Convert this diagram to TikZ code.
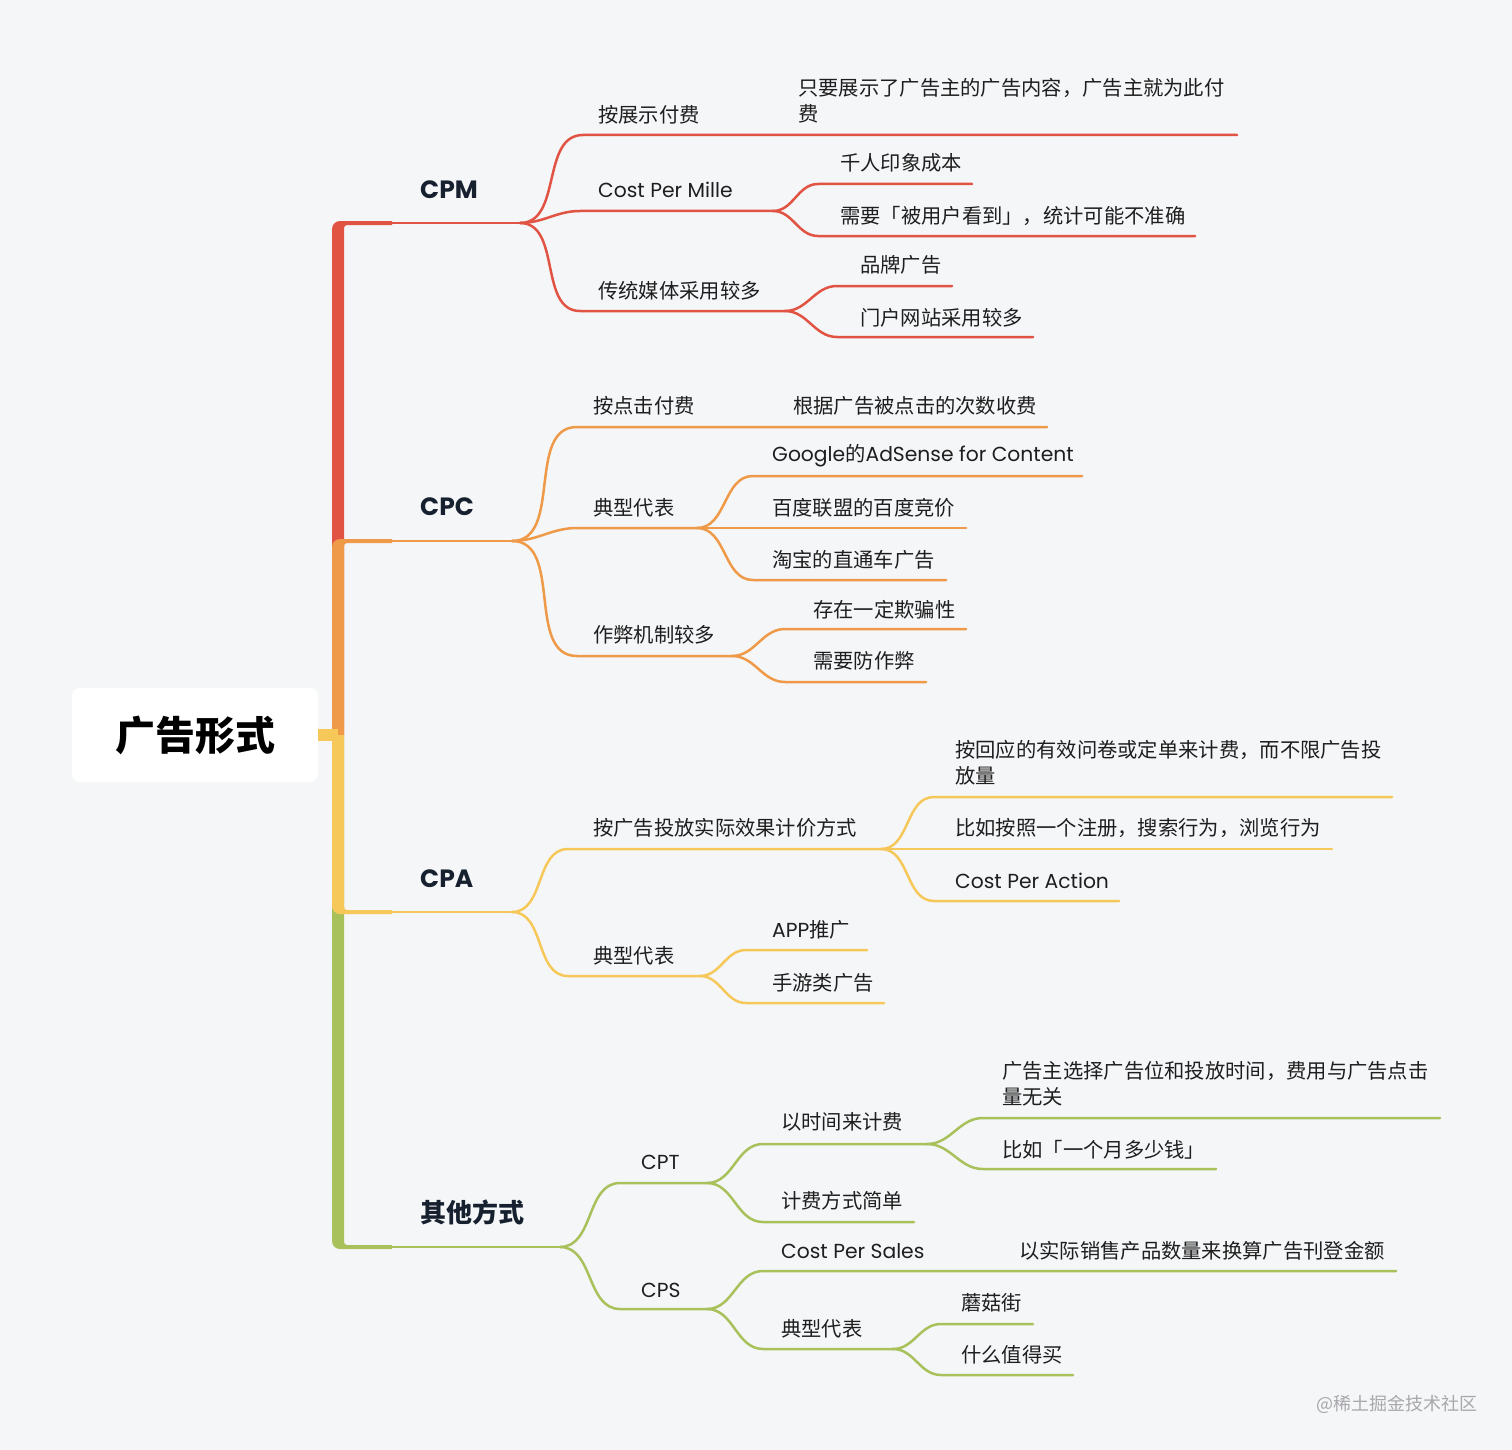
\documentclass[tikz,border=0pt]{standalone}
\usepackage{fontspec}
\setmainfont{Noto Sans CJK SC}
\newfontfamily\latin{Poppins}

\definecolor{paper}{HTML}{F5F6F8}
\definecolor{cpmred}{HTML}{E15342}
\definecolor{cpcorange}{HTML}{EE9A48}
\definecolor{cpayellow}{HTML}{F6C85A}
\definecolor{othgreen}{HTML}{A8C15B}
\definecolor{ink}{HTML}{1E1E1E}
\definecolor{titleink}{HTML}{16202E}
\definecolor{markgray}{HTML}{A8A8AC}

\tikzset{
  rootbox/.style={fill=white, rounded corners=8pt, minimum width=246pt, minimum height=94pt,
    inner sep=0pt, text=black, font=\fontsize{40}{44}\selectfont\bfseries},
  major/.style={anchor=west, inner sep=0pt, text=titleink, font=\fontsize{25}{28}\selectfont\bfseries},
  topic/.style={anchor=west, inner sep=0pt, text=ink, align=left, font=\fontsize{20.3}{26}\selectfont},
  link/.style={line width=2.5pt, line cap=round},
  curvy/.style={out=0, in=180},
}

% one coloured bar of the trunk: colour, level, 1 = up / -1 = down
\newcommand\trunkbar[3]{%
  \fill[#1] (332,735) -- (332,{#2+6*#3})
    .. controls (332,{#2+1.6*#3}) and (335.6,{#2-2*#3}) .. (340,{#2-2*#3})
    -- (392,{#2-2*#3}) -- (392,{#2+2*#3}) -- (347,{#2+2*#3})
    .. controls (345.3,{#2+2*#3}) and (344,{#2+3.3*#3}) .. (344,{#2+5*#3})
    -- (344,735) -- cycle;}

\begin{document}
\begin{tikzpicture}[x=1pt, y=-1pt]
  % canvas
  \fill[paper] (0,0) rectangle (1512,1450);
  \useasboundingbox (0,0) rectangle (1512,1450);

  % central topic
  \node[rootbox] (root) at (195,735) {广告形式};

  % trunk, back to front
  \trunkbar{cpmred}{223}{1}
  \trunkbar{cpcorange}{541}{1}
  \trunkbar{othgreen}{1247}{-1}
  \trunkbar{cpayellow}{912}{-1}
  \draw[cpayellow, line width=12pt] (root.east) -- (338,735);

  % ---------------- CPM
  \node[major] (cpm) at (420,190) {\latin CPM};
  \coordinate (cpm-a) at (392,223); \coordinate (cpm-b) at (520,223);

  \node[topic] (a1) at (598,115) {按展示付费};
  \coordinate (a1-s) at (583,135); \coordinate (a1-b) at (790,135);
  \node[topic] (a11) at (798,101) {只要展示了广告主的广告内容，广告主就为此付\\费};
  \coordinate (a11-e) at (1237,135);

  \node[topic] (a2) at (598,190) {\latin Cost Per Mille};
  \coordinate (a2-s) at (580,211); \coordinate (a2-b) at (773,211);
  \node[topic] (a21) at (840,163) {千人印象成本};
  \coordinate (a21-s) at (818,184); \coordinate (a21-e) at (972,184);
  \node[topic] (a22) at (840,216) {需要「被用户看到」，统计可能不准确};
  \coordinate (a22-s) at (818,236); \coordinate (a22-e) at (1195,236);

  \node[topic] (a3) at (598,291) {传统媒体采用较多};
  \coordinate (a3-s) at (580,311); \coordinate (a3-b) at (785,311);
  \node[topic] (a31) at (860,265) {品牌广告};
  \coordinate (a31-s) at (837,286); \coordinate (a31-e) at (952,286);
  \node[topic] (a32) at (860,318) {门户网站采用较多};
  \coordinate (a32-s) at (837,337); \coordinate (a32-e) at (1033,337);

  \begin{scope}[link, cpmred]
    \draw (cpm-a) -- (cpm-b);
    \draw (cpm-b) to[curvy] (a1-s) -- (a1-b) -- (a11-e);
    \draw (cpm-b) to[curvy] (a2-s) -- (a2-b);
    \draw (a2-b) to[curvy] (a21-s) -- (a21-e);
    \draw (a2-b) to[curvy] (a22-s) -- (a22-e);
    \draw (cpm-b) to[curvy] (a3-s) -- (a3-b);
    \draw (a3-b) to[curvy] (a31-s) -- (a31-e);
    \draw (a3-b) to[curvy] (a32-s) -- (a32-e);
  \end{scope}

  % ---------------- CPC
  \node[major] (cpc) at (420,507) {\latin CPC};
  \coordinate (cpc-a) at (392,541); \coordinate (cpc-b) at (512,541);

  \node[topic] (b1) at (593,406) {按点击付费};
  \coordinate (b1-s) at (577,427); \coordinate (b1-b) at (780,427);
  \node[topic] (b11) at (793,406) {根据广告被点击的次数收费};
  \coordinate (b11-e) at (1047,427);

  \node[topic] (b2) at (593,508) {典型代表};
  \coordinate (b2-s) at (577,528); \coordinate (b2-b) at (697,528);
  \node[topic] (b21) at (772,456) {{\latin Google}的{\latin AdSense for Content}};
  \coordinate (b21-s) at (753,476); \coordinate (b21-e) at (1082,476);
  \node[topic] (b22) at (772,508) {百度联盟的百度竞价};
  \coordinate (b22-s) at (753,528); \coordinate (b22-e) at (966,528);
  \node[topic] (b23) at (772,560) {淘宝的直通车广告};
  \coordinate (b23-s) at (753,580); \coordinate (b23-e) at (946,580);

  \node[topic] (b3) at (593,635) {作弊机制较多};
  \coordinate (b3-s) at (577,656); \coordinate (b3-b) at (732,656);
  \node[topic] (b31) at (813,610) {存在一定欺骗性};
  \coordinate (b31-s) at (785,629); \coordinate (b31-e) at (966,629);
  \node[topic] (b32) at (813,661) {需要防作弊};
  \coordinate (b32-s) at (785,682); \coordinate (b32-e) at (926,682);

  \begin{scope}[link, cpcorange]
    \draw (cpc-a) -- (cpc-b);
    \draw (cpc-b) to[curvy] (b1-s) -- (b1-b) -- (b11-e);
    \draw (cpc-b) to[curvy] (b2-s) -- (b2-b);
    \draw (b2-b) to[curvy] (b21-s) -- (b21-e);
    \draw (b2-b) -- (b22-s) -- (b22-e);
    \draw (b2-b) to[curvy] (b23-s) -- (b23-e);
    \draw (cpc-b) to[curvy] (b3-s) -- (b3-b);
    \draw (b3-b) to[curvy] (b31-s) -- (b31-e);
    \draw (b3-b) to[curvy] (b32-s) -- (b32-e);
  \end{scope}

  % ---------------- CPA
  \node[major] (cpa) at (420,879) {\latin CPA};
  \coordinate (cpa-a) at (392,912); \coordinate (cpa-b) at (512,912);

  \node[topic] (c1) at (593,828) {按广告投放实际效果计价方式};
  \coordinate (c1-s) at (568,849); \coordinate (c1-b) at (881,849);
  \node[topic] (c11) at (955,763) {按回应的有效问卷或定单来计费，而不限广告投\\放量};
  \coordinate (c11-s) at (934,797); \coordinate (c11-e) at (1392,797);
  \node[topic] (c12) at (955,828) {比如按照一个注册，搜索行为，浏览行为};
  \coordinate (c12-s) at (934,849); \coordinate (c12-e) at (1332,849);
  \node[topic] (c13) at (955,881) {\latin Cost Per Action};
  \coordinate (c13-s) at (934,901); \coordinate (c13-e) at (1119,901);

  \node[topic] (c2) at (593,956) {典型代表};
  \coordinate (c2-s) at (568,976); \coordinate (c2-b) at (700,976);
  \node[topic] (c21) at (772,930) {{\latin APP}推广};
  \coordinate (c21-s) at (746,950); \coordinate (c21-e) at (867,950);
  \node[topic] (c22) at (772,983) {手游类广告};
  \coordinate (c22-s) at (746,1003); \coordinate (c22-e) at (884,1003);

  \begin{scope}[link, cpayellow]
    \draw (cpa-a) -- (cpa-b);
    \draw (cpa-b) to[curvy] (c1-s) -- (c1-b);
    \draw (c1-b) to[curvy] (c11-s) -- (c11-e);
    \draw (c1-b) -- (c12-s) -- (c12-e);
    \draw (c1-b) to[curvy] (c13-s) -- (c13-e);
    \draw (cpa-b) to[curvy] (c2-s) -- (c2-b);
    \draw (c2-b) to[curvy] (c21-s) -- (c21-e);
    \draw (c2-b) to[curvy] (c22-s) -- (c22-e);
  \end{scope}

  % ---------------- other ways
  \node[major, font=\fontsize{26}{28}\selectfont\bfseries] (oth) at (420,1212) {其他方式};
  \coordinate (oth-a) at (392,1247); \coordinate (oth-b) at (560,1247);

  \node[topic] (d1) at (641,1162) {\latin CPT};
  \coordinate (d1-s) at (620,1183); \coordinate (d1-b) at (707,1183);
  \node[topic] (d11) at (781,1122) {以时间来计费};
  \coordinate (d11-s) at (763,1144); \coordinate (d11-b) at (927,1144);
  \node[topic] (d111) at (1002,1084) {广告主选择广告位和投放时间，费用与广告点击\\量无关};
  \coordinate (d111-s) at (983,1118); \coordinate (d111-e) at (1440,1118);
  \node[topic] (d112) at (1002,1150) {比如「一个月多少钱」};
  \coordinate (d112-s) at (983,1169); \coordinate (d112-e) at (1216,1169);
  \node[topic] (d12) at (781,1201) {计费方式简单};
  \coordinate (d12-s) at (763,1222); \coordinate (d12-e) at (914,1222);

  \node[topic] (d2) at (641,1290) {\latin CPS};
  \coordinate (d2-s) at (620,1309); \coordinate (d2-b) at (707,1309);
  \node[topic] (d21) at (781,1251) {\latin Cost Per Sales};
  \coordinate (d21-s) at (763,1271); \coordinate (d21-b) at (1000,1271);
  \node[topic] (d211) at (1019,1251) {以实际销售产品数量来换算广告刊登金额};
  \coordinate (d211-e) at (1396,1271);
  \node[topic] (d22) at (781,1329) {典型代表};
  \coordinate (d22-s) at (763,1349); \coordinate (d22-b) at (893,1349);
  \node[topic] (d221) at (961,1303) {蘑菇街};
  \coordinate (d221-s) at (941,1324); \coordinate (d221-e) at (1033,1324);
  \node[topic] (d222) at (961,1355) {什么值得买};
  \coordinate (d222-s) at (941,1375); \coordinate (d222-e) at (1073,1375);

  \begin{scope}[link, othgreen]
    \draw (oth-a) -- (oth-b);
    \draw (oth-b) to[curvy] (d1-s) -- (d1-b);
    \draw (d1-b) to[curvy] (d11-s) -- (d11-b);
    \draw (d11-b) to[curvy] (d111-s) -- (d111-e);
    \draw (d11-b) to[curvy] (d112-s) -- (d112-e);
    \draw (d1-b) to[curvy] (d12-s) -- (d12-e);
    \draw (oth-b) to[curvy] (d2-s) -- (d2-b);
    \draw (d2-b) to[curvy] (d21-s) -- (d21-b) -- (d211-e);
    \draw (d2-b) to[curvy] (d22-s) -- (d22-b);
    \draw (d22-b) to[curvy] (d221-s) -- (d221-e);
    \draw (d22-b) to[curvy] (d222-s) -- (d222-e);
  \end{scope}

  % watermark
  \node[anchor=west, inner sep=0pt, text=markgray, font=\fontsize{18}{20}\selectfont] (mark) at (1316,1404) {@稀土掘金技术社区};
\end{tikzpicture}
\end{document}
